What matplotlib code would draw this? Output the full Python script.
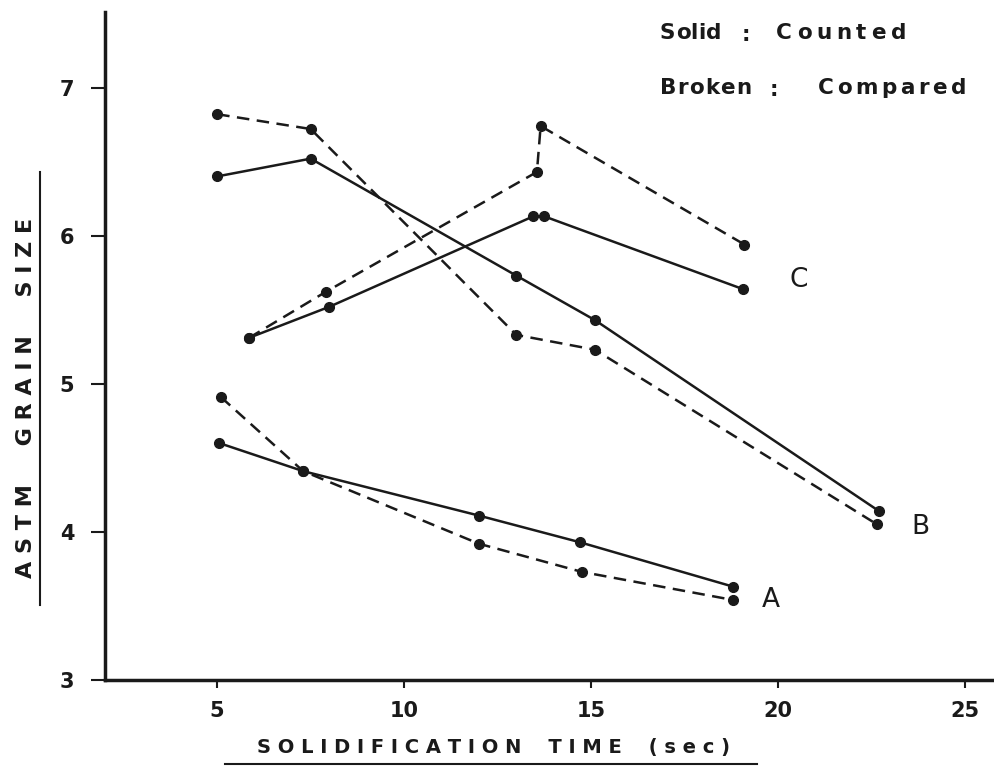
import matplotlib
matplotlib.use("Agg")
import matplotlib.pyplot as plt
from matplotlib.lines import Line2D

# Series A
a_solid_x = [5.05, 7.3, 12.0, 14.7, 18.8]
a_solid_y = [4.60, 4.41, 4.11, 3.93, 3.63]
a_broken_x = [5.1, 7.3, 12.0, 14.75, 18.8]
a_broken_y = [4.91, 4.41, 3.92, 3.73, 3.54]
# Series B
b_solid_x = [5.0, 7.5, 13.0, 15.1, 22.7]
b_solid_y = [6.40, 6.52, 5.73, 5.43, 4.14]
b_broken_x = [5.0, 7.5, 13.0, 15.1, 22.65]
b_broken_y = [6.82, 6.72, 5.33, 5.23, 4.05]
# Series C
c_solid_x = [5.85, 8.0, 13.45, 13.75, 19.05]
c_solid_y = [5.31, 5.52, 6.13, 6.13, 5.64]
c_broken_x = [5.85, 7.9, 13.55, 13.65, 19.1]
c_broken_y = [5.31, 5.62, 6.43, 6.74, 5.94]

x_ticks = [5, 10, 15, 20, 25]
y_ticks = [3, 4, 5, 6, 7]

W, H = 995, 766
fig = plt.figure(figsize=(W / 100, H / 100), dpi=100)
ax = fig.add_axes([105 / W, 1 - 680 / H, (W - 105) / W, (680 - 12) / H])

font = "DejaVu Sans"
ink = "#1a1a1a"
lw = 1.8
ms = 7
dash = (0, (5, 3))
for xs, ys in [(a_solid_x, a_solid_y), (b_solid_x, b_solid_y), (c_solid_x, c_solid_y)]:
    ax.plot(xs, ys, color=ink, lw=lw, marker="o", ms=ms)
for xs, ys in [(a_broken_x, a_broken_y), (b_broken_x, b_broken_y), (c_broken_x, c_broken_y)]:
    ax.plot(xs, ys, color=ink, lw=lw, marker="o", ms=ms, linestyle=dash)

ax.set_xlim(2.0, 25.8)
ax.set_ylim(3, 7.51)
ax.set_xticks(x_ticks)
ax.set_xticklabels([str(v) for v in x_ticks], fontsize=15, family=font, fontweight="bold")
ax.set_yticks(y_ticks)
ax.set_yticklabels([str(v) for v in y_ticks], fontsize=15, family=font, fontweight="bold")
ax.tick_params(axis="y", direction="out", length=10, width=1.5, pad=12, colors=ink)
ax.tick_params(axis="x", direction="out", length=6, width=1.5, pad=9, colors=ink)
for s in ["top", "right"]:
    ax.spines[s].set_visible(False)
for s in ["left", "bottom"]:
    ax.spines[s].set_linewidth(2.5)
    ax.spines[s].set_color(ink)

# Curve labels
ax.text(20.55, 5.70, "C", fontsize=19, family=font, va="center", ha="center", color=ink)
ax.text(23.8, 4.03, "B", fontsize=19, family=font, va="center", ha="center", color=ink)
ax.text(19.8, 3.54, "A", fontsize=19, family=font, va="center", ha="center", color=ink)

# Legend text, placed word by word with letter tracking to fit a pixel span
renderer = fig.canvas.get_renderer()
kw = dict(fontsize=15.5, family=font, fontweight="bold", va="center", ha="left", color=ink)


def tracked(word, x0, x1, ypx):
    widths = []
    arts = []
    for ch in word:
        t = fig.text(0, 0, ch, **kw)
        widths.append(t.get_window_extent(renderer).width)
        arts.append(t)
    gap = (x1 - x0 - sum(widths)) / max(len(word) - 1, 1)
    x = x0
    for t, w in zip(arts, widths):
        t.set_position((x / W, 1 - ypx / H))
        x += w + gap


tracked("Solid", 660, 721, 33)
fig.text(742 / W, 1 - 35 / H, ":", **kw)
tracked("Counted", 776, 906, 33)
tracked("Broken", 660, 751, 88)
fig.text(770 / W, 1 - 90 / H, ":", **kw)
tracked("Compared", 818, 966, 88)

# Axis labels with underline
fig.text(26 / W, 1 - 398 / H, "A S T M     G R A I N     S I Z E", fontsize=16, family=font,
         fontweight="bold", rotation=90, va="center", ha="center", color=ink)
fig.add_artist(Line2D([40 / W, 40 / W], [1 - 605 / H, 1 - 172 / H], color=ink, lw=1.5))
fig.text(494 / W, 1 - 748 / H, "S O L I D I F I C A T I O N    T I M E    ( s e c )", fontsize=14,
         family=font, fontweight="bold", va="center", ha="center", color=ink)
fig.add_artist(Line2D([225 / W, 757 / W], [1 - 764 / H, 1 - 764 / H], color=ink, lw=1.5))

fig.savefig("out.png", dpi=100)
